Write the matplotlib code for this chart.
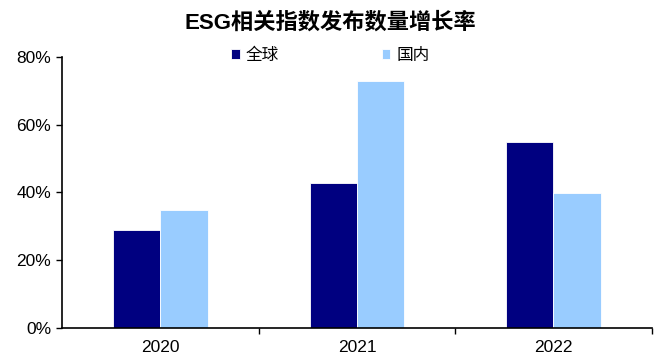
import matplotlib.pyplot as plt
import numpy as np
from matplotlib.ticker import PercentFormatter

plt.rcParams['font.family'] = ['Liberation Sans', 'Noto Sans CJK SC', 'DejaVu Sans']

# 数据
years = ['2020', '2021', '2022']
global_growth = [28.8, 42.9, 55.0]    # 全球
domestic_growth = [34.8, 73.0, 39.9]  # 国内
series_names = ['全球', '国内']

fig = plt.figure(figsize=(6.55, 3.58), dpi=100)
ax = fig.add_axes([0.095, 0.084, 0.9, 0.757])

x = np.arange(len(years))
w = 0.24
ax.bar(x - w / 2, global_growth, w, color='#000080', edgecolor='white', linewidth=0.6, label=series_names[0])
ax.bar(x + w / 2, domestic_growth, w, color='#99CCFF', edgecolor='white', linewidth=0.6, label=series_names[1])

ax.set_xlim(-0.5, 2.5)
ax.set_ylim(0, 80)
ax.set_yticks([0, 20, 40, 60, 80])
ax.yaxis.set_major_formatter(PercentFormatter(decimals=0))

ax.set_xticks(x)
ax.set_xticklabels(years)
ax.set_xticks([0.5, 1.5, 2.5], minor=True)
ax.tick_params(axis='x', which='major', length=0, pad=9, labelsize=12.5)
ax.tick_params(axis='x', which='minor', length=4, width=1, direction='out')
ax.tick_params(axis='y', length=4, width=1, direction='out', labelsize=12.5, pad=4)

for s in ['top', 'right']:
    ax.spines[s].set_visible(False)
for s in ['left', 'bottom']:
    ax.spines[s].set_linewidth(1.2)

fig.text(0.505, 0.936, 'ESG相关指数发布数量增长率', ha='center', va='center',
         fontsize=16, fontweight='bold')

ax.legend(loc='center', bbox_to_anchor=(0.455, 1.007), ncol=2, frameon=False,
          handlelength=0.5, handleheight=0.5, handletextpad=0.35,
          columnspacing=6.2, fontsize=12, borderaxespad=0)

fig.savefig('out.png', dpi=100)
